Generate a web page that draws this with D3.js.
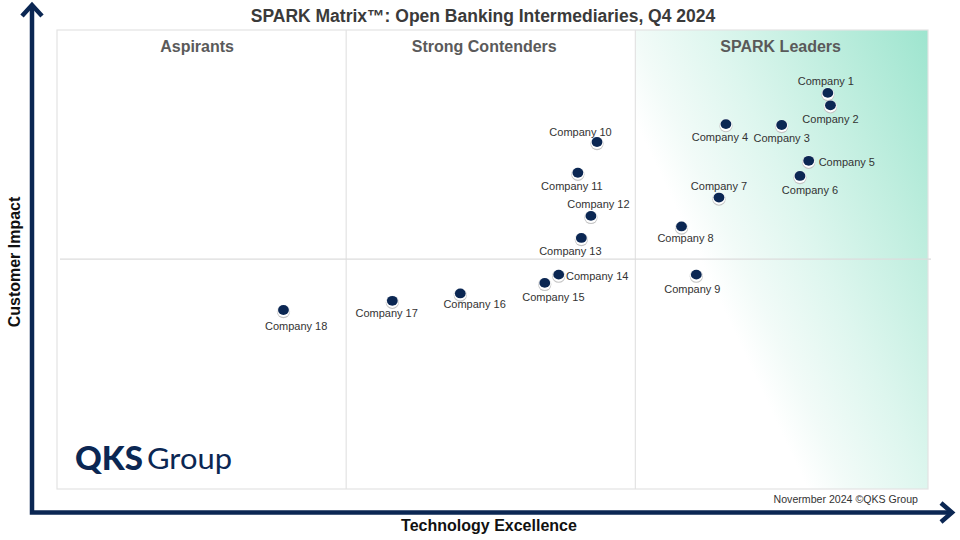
<!DOCTYPE html>
<html>
<head>
<meta charset="utf-8">
<script src="https://cdn.jsdelivr.net/npm/d3@7"></script>
<style>
  body { margin: 0; background: #fff; }
  svg { display: block; font-family: "Liberation Sans", Arial, sans-serif; }
</style>
</head>
<body>
<div id="chart"></div>
<script>
// vendor scores (0-100)
const companies = ['Company 1', 'Company 2', 'Company 3', 'Company 4', 'Company 5', 'Company 6',
    'Company 7', 'Company 8', 'Company 9', 'Company 10', 'Company 11', 'Company 12',
    'Company 13', 'Company 14', 'Company 15', 'Company 16', 'Company 17', 'Company 18'];
const techExcellence = [88.5, 88.8, 83.2, 76.8, 86.3, 85.3, 76.0, 71.7, 73.4, 62.0, 59.8, 61.3,
    60.2, 57.6, 56.0, 46.3, 38.5, 26.0];
const customerImpact = [86.3, 83.6, 79.3, 79.5, 71.5, 68.2, 63.5, 57.2, 46.7, 75.6, 68.9, 59.5,
    54.7, 46.7, 44.9, 42.6, 41.0, 39.0];

const quadrants = ['Aspirants', 'Strong Contenders', 'SPARK Leaders'];
const quadrantBreaks = [0, 33.2, 66.4, 100];
const impactBreak = 50.1;

// label placement next to each dot: [dx, dy, anchor]
const labelPlacement = [
    [-2, -7.5, 'middle'], [0, 17.7, 'middle'], [0, 17.3, 'middle'], [-6, 17.4, 'middle'],
    [10, 5.6, 'start'], [10, 18.3, 'middle'], [0, -7.7, 'middle'], [4, 15.3, 'middle'],
    [-4, 18.3, 'middle'], [-16.5, -5.7, 'middle'], [-6, 17.3, 'middle'], [7.5, -7.7, 'middle'],
    [-11, 17, 'middle'], [7.3, 5.3, 'start'], [8.6, 18, 'middle'], [14.3, 14.7, 'middle'],
    [-5.7, 16.3, 'middle'], [12.7, 20, 'middle']
];
// title centres are a bit off the quadrant centres in the original
const quadrantTitleShift = [-4.5, -6.5, -1];

const width = 960, height = 540;
const navy = '#0b2753';

const svg = d3.select('#chart').append('svg')
    .attr('width', width)
    .attr('height', height);

const x = d3.scaleLinear().domain([0, 100]).range([57, 928]);
const y = d3.scaleLinear().domain([0, 100]).range([489, 30]);

// diagonal teal wash over the leaders box (user space, tilted)
const gx0 = x(quadrantBreaks[2]), gy0 = y(0);
const defs = svg.append('defs');
const grad = defs.append('linearGradient')
    .attr('id', 'leaders')
    .attr('gradientUnits', 'userSpaceOnUse')
    .attr('x1', gx0).attr('y1', gy0)
    .attr('x2', gx0 + 415).attr('y2', gy0 - 194.5);
[
    ['0%', '#ffffff'], ['34%', '#ffffff'], ['42%', '#f2fbf8'],
    ['58%', '#ddf6ee'], ['78%', '#c0eedf'], ['100%', '#9ee5cf']
].forEach(s => grad.append('stop').attr('offset', s[0]).attr('stop-color', s[1]));

svg.append('rect')
    .attr('x', x(quadrantBreaks[2]))
    .attr('y', y(100))
    .attr('width', x(100) - x(quadrantBreaks[2]))
    .attr('height', y(0) - y(100))
    .attr('fill', 'url(#leaders)');

// frame and dividers
svg.append('rect')
    .attr('x', x(0)).attr('y', y(100))
    .attr('width', x(100) - x(0))
    .attr('height', y(0) - y(100))
    .attr('fill', 'none')
    .attr('stroke', '#e3e3e3')
    .attr('stroke-width', 1.2);

svg.selectAll('.divider')
    .data(quadrantBreaks.slice(1, 3))
    .enter()
    .append('line')
    .attr('class', 'divider')
    .attr('x1', d => x(d)).attr('x2', d => x(d))
    .attr('y1', y(100)).attr('y2', y(0))
    .attr('stroke', '#e3e3e3')
    .attr('stroke-width', 1.2);

svg.append('line')
    .attr('x1', x(0) + 3).attr('x2', x(100) + 3)
    .attr('y1', y(impactBreak)).attr('y2', y(impactBreak))
    .attr('stroke', '#dcdcdc')
    .attr('stroke-width', 1.2);

// quadrant titles
svg.selectAll('.quad')
    .data(quadrants)
    .enter()
    .append('text')
    .attr('class', 'quad')
    .attr('x', (d, i) => (x(quadrantBreaks[i]) + x(quadrantBreaks[i + 1])) / 2 + quadrantTitleShift[i])
    .attr('y', 52)
    .attr('text-anchor', 'middle')
    .attr('fill', '#5a5a5a')
    .style('font-size', '16px')
    .style('font-weight', 'bold')
    .text(d => d);

// title
svg.append('text')
    .attr('x', 483)
    .attr('y', 22)
    .attr('text-anchor', 'middle')
    .attr('fill', '#3a3a3a')
    .style('font-size', '17.5px')
    .style('font-weight', 'bold')
    .text('SPARK Matrix™: Open Banking Intermediaries, Q4 2024');

// axes arrows
svg.append('path')
    .attr('d', 'M32,5 L32,512.5 L952,512.5')
    .attr('fill', 'none')
    .attr('stroke', navy)
    .attr('stroke-width', 4.5);
svg.append('path')
    .attr('d', 'M22,16 L32,5 L42,16')
    .attr('fill', 'none')
    .attr('stroke', navy)
    .attr('stroke-width', 4.5);
svg.append('path')
    .attr('d', 'M941,503 L952,512.5 L941,522')
    .attr('fill', 'none')
    .attr('stroke', navy)
    .attr('stroke-width', 4.5);

svg.append('text')
    .attr('transform', 'translate(20,262) rotate(-90)')
    .attr('text-anchor', 'middle')
    .attr('fill', '#111')
    .style('font-size', '16px')
    .style('font-weight', 'bold')
    .text('Customer Impact');

svg.append('text')
    .attr('x', 489)
    .attr('y', 531)
    .attr('text-anchor', 'middle')
    .attr('fill', '#111')
    .style('font-size', '16px')
    .style('font-weight', 'bold')
    .text('Technology Excellence');

// footer
svg.append('text')
    .attr('x', 918)
    .attr('y', 503)
    .attr('text-anchor', 'end')
    .attr('fill', '#333')
    .style('font-size', '10.6px')
    .text('Novermber 2024 ©QKS Group');

// logo
const logo = svg.append('g').attr('fill', navy);
logo.append('text')
    .attr('x', 75).attr('y', 470)
    .attr('textLength', 68)
    .attr('lengthAdjust', 'spacingAndGlyphs')
    .style('font-family', 'Lato, "Open Sans", sans-serif')
    .style('font-size', '33px')
    .style('font-weight', 900)
    .text('QKS');
logo.append('text')
    .attr('x', 147).attr('y', 469)
    .attr('textLength', 85)
    .attr('lengthAdjust', 'spacingAndGlyphs')
    .style('font-family', 'Lato, "Open Sans", sans-serif')
    .style('font-size', '29px')
    .style('font-weight', 400)
    .text('Group');

// vendors
const points = companies.map((name, i) => ({
    name: name,
    tx: techExcellence[i],
    ci: customerImpact[i],
    lp: labelPlacement[i]
}));

const dots = svg.selectAll('.vendor')
    .data(points)
    .enter()
    .append('g')
    .attr('class', 'vendor')
    .attr('transform', d => `translate(${x(d.tx)},${y(d.ci)})`);

dots.append('circle')
    .attr('cy', 1.6)
    .attr('r', 6.6)
    .attr('fill', '#c4c4c4');
dots.append('circle')
    .attr('cy', 0.9)
    .attr('r', 6.2)
    .attr('fill', '#fff');
dots.append('ellipse')
    .attr('rx', 5.4)
    .attr('ry', 4.9)
    .attr('fill', navy);

dots.append('text')
    .attr('x', d => d.lp[0])
    .attr('y', d => d.lp[1])
    .attr('text-anchor', d => d.lp[2])
    .attr('fill', '#333')
    .style('font-size', '11px')
    .text(d => d.name);
</script>
</body>
</html>
